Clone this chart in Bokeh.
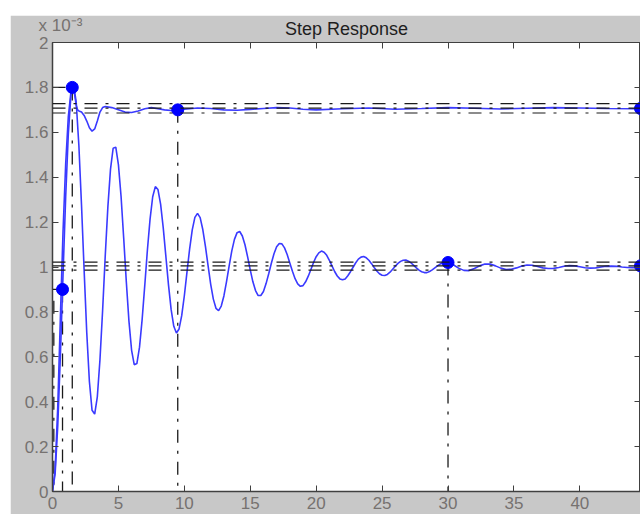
from bokeh.plotting import figure
from bokeh.models import Range1d, FixedTicker, LinearAxis, Span, ColumnDataSource
from bokeh.embed import file_html
from bokeh.resources import INLINE

# ---- data (response values in units of 1e-3) ----
# system 2: lightly damped, settles to 1.0e-3
t2 = [0.0, 0.2, 0.4, 0.6, 0.8, 1.0, 1.2, 1.4, 1.6, 1.8,
      2.0, 2.2, 2.4, 2.6, 2.8, 3.0, 3.2, 3.4, 3.6, 3.8,
      4.0, 4.2, 4.4, 4.6, 4.8, 5.0, 5.2, 5.4, 5.6, 5.8,
      6.0, 6.2, 6.4, 6.6, 6.8, 7.0, 7.2, 7.4, 7.6, 7.8,
      8.0, 8.2, 8.4, 8.6, 8.8, 9.0, 9.2, 9.4, 9.6, 9.8,
      10.0, 10.2, 10.4, 10.6, 10.8, 11.0, 11.2, 11.4, 11.6, 11.8,
      12.0, 12.2, 12.4, 12.6, 12.8, 13.0, 13.2, 13.4, 13.6, 13.8,
      14.0, 14.2, 14.4, 14.6, 14.8, 15.0, 15.2, 15.4, 15.6, 15.8,
      16.0, 16.2, 16.4, 16.6, 16.8, 17.0, 17.2, 17.4, 17.6, 17.8,
      18.0, 18.2, 18.4, 18.6, 18.8, 19.0, 19.2, 19.4, 19.6, 19.8,
      20.0, 20.2, 20.4, 20.6, 20.8, 21.0, 21.2, 21.4, 21.6, 21.8,
      22.0, 22.2, 22.4, 22.6, 22.8, 23.0, 23.2, 23.4, 23.6, 23.8,
      24.0, 24.2, 24.4, 24.6, 24.8, 25.0, 25.2, 25.4, 25.6, 25.8,
      26.0, 26.2, 26.4, 26.6, 26.8, 27.0, 27.2, 27.4, 27.6, 27.8,
      28.0, 28.2, 28.4, 28.6, 28.8, 29.0, 29.2, 29.4, 29.6, 29.8,
      30.0, 30.4, 30.8, 31.2, 31.6, 32.0, 32.4, 32.8, 33.2, 33.6,
      34.0, 34.4, 34.8, 35.2, 35.6, 36.0, 36.4, 36.8, 37.2, 37.6,
      38.0, 38.4, 38.8, 39.2, 39.6, 40.0, 40.4, 40.8, 41.2, 41.6,
      42.0, 42.4, 42.8, 43.2, 43.6, 44.0, 44.4, 44.6]
y2 = [0.000, 0.079, 0.294, 0.609, 0.968, 1.313, 1.593, 1.767, 1.814, 1.733,
      1.542, 1.277, 0.984, 0.706, 0.489, 0.362, 0.345, 0.422, 0.587, 0.805,
      1.049, 1.268, 1.436, 1.529, 1.534, 1.456, 1.315, 1.129, 0.933, 0.758,
      0.629, 0.565, 0.570, 0.643, 0.767, 0.919, 1.077, 1.213, 1.313, 1.358,
      1.345, 1.280, 1.174, 1.047, 0.919, 0.810, 0.736, 0.706, 0.724, 0.783,
      0.872, 0.977, 1.080, 1.165, 1.221, 1.239, 1.220, 1.167, 1.092, 1.006,
      0.923, 0.857, 0.816, 0.806, 0.826, 0.871, 0.935, 1.005, 1.072, 1.123,
      1.153, 1.158, 1.138, 1.099, 1.045, 0.987, 0.934, 0.895, 0.873, 0.873,
      0.891, 0.926, 0.970, 1.017, 1.059, 1.090, 1.105, 1.103, 1.085, 1.056,
      1.018, 0.981, 0.948, 0.925, 0.914, 0.917, 0.934, 0.959, 0.989, 1.020,
      1.046, 1.063, 1.071, 1.066, 1.052, 1.030, 1.005, 0.980, 0.960, 0.947,
      0.943, 0.947, 0.961, 0.979, 0.999, 1.019, 1.035, 1.044, 1.047, 1.041,
      1.030, 1.015, 0.998, 0.982, 0.970, 0.963, 0.962, 0.967, 0.977, 0.990,
      1.003, 1.016, 1.025, 1.030, 1.031, 1.026, 1.018, 1.007, 0.996, 0.986,
      0.979, 0.975, 0.975, 0.980, 0.987, 0.996, 1.005, 1.013, 1.018, 1.021,
      1.020, 1.010, 0.995, 0.985, 0.984, 0.993, 1.005, 1.013, 1.013, 1.005,
      0.995, 0.989, 0.990, 0.996, 1.004, 1.009, 1.008, 1.002, 0.996, 0.993,
      0.994, 0.998, 1.003, 1.006, 1.005, 1.001, 0.997, 0.995, 0.996, 1.000,
      1.003, 1.004, 1.003, 1.000, 0.998, 0.997, 0.998, 0.999]

# system 1: well damped, settles to 1.7e-3
t1 = [0.0, 0.2, 0.4, 0.6, 0.8, 1.0, 1.2, 1.4, 1.5, 1.6, 1.7, 1.8, 1.9, 2.0,
      2.2, 2.4, 2.6, 2.8, 3.0, 3.2, 3.4, 3.6, 3.8, 4.0, 4.5, 5.0, 5.5, 6.0,
      6.5, 7.0, 7.5, 8.0, 8.5, 9.0, 9.5, 10.0, 11.0, 12.0, 13.0, 14.0, 15.0,
      16.0, 17.0, 18.0, 19.0, 20.0, 22.0, 24.0, 26.0, 28.0, 30.0, 32.0, 34.0,
      36.0, 38.0, 40.0, 42.0, 44.0, 44.6]
y1 = [0.000, 0.100, 0.380, 0.780, 1.160, 1.460, 1.670, 1.780, 1.800, 1.790,
      1.760, 1.720, 1.700, 1.695, 1.690, 1.675, 1.650, 1.620, 1.605, 1.615,
      1.650, 1.690, 1.710, 1.715, 1.710, 1.700, 1.690, 1.688, 1.695, 1.705,
      1.710, 1.705, 1.700, 1.697, 1.700, 1.703, 1.708, 1.706, 1.700, 1.698,
      1.702, 1.706, 1.710, 1.708, 1.703, 1.700, 1.705, 1.708, 1.703, 1.706,
      1.710, 1.707, 1.704, 1.707, 1.710, 1.708, 1.706, 1.705, 1.705]

# characteristic points: peak, settling (sys1), rise (sys2), settling (sys2), steady states
mark_t = [1.5, 9.5, 0.76, 30.0, 44.6, 44.6]
mark_y = [1.80, 1.70, 0.90, 1.02, 1.706, 1.005]

# extra rise-start guide
rise_start_t = [0.1]
rise_start_y = [0.85]

# steady-state / settling band levels
band_levels = [1.728, 1.708, 1.686, 1.022, 1.005, 0.986]

x_ticks = [0, 5, 10, 15, 20, 25, 30, 35, 40, 45]
y_ticks = [0, 0.2, 0.4, 0.6, 0.8, 1.0, 1.2, 1.4, 1.6, 1.8, 2.0]
y_tick_labels = ["0", "0.2", "0.4", "0.6", "0.8", "1", "1.2", "1.4", "1.6", "1.8", "2"]

title_text = "Step Response"
exponent_pos = 0.6
exponent_text = "x 10\u207b\u00b3"

# ---- figure ----
FONT = "Liberation Sans"
GRAY_BG = "#c8c8c8"
AX = "#404040"
LBL = "#767270"
DASHDOT = "13 8 3 8"

p = figure(width=630, height=499, x_range=Range1d(0, 44.6), y_range=Range1d(0, 2),
           output_backend="svg", toolbar_location=None,
           min_border_left=42, min_border_top=27, min_border_bottom=23, min_border_right=0,
           background_fill_color="white", border_fill_color=GRAY_BG,
           outline_line_color=AX, outline_line_width=1)
p.margin = (15, 0, 0, 10)
p.title = None

p.grid.visible = False

for ax in (p.xaxis[0], p.yaxis[0]):
    ax.major_tick_in = 6
    ax.major_tick_out = 0
    ax.minor_tick_line_color = None
    ax.axis_line_color = AX
    ax.axis_line_width = 1.5
    ax.major_tick_line_color = AX
    ax.major_label_text_font = FONT
    ax.major_label_text_font_size = "17px"
    ax.major_label_text_color = LBL

p.xaxis.ticker = FixedTicker(ticks=x_ticks)
p.yaxis.ticker = FixedTicker(ticks=y_ticks)
p.yaxis.major_label_overrides = {v: s for v, s in zip(y_ticks, y_tick_labels)}
p.xaxis.major_label_standoff = 5
p.yaxis.major_label_standoff = 4

# top axis: frame ticks (as minor ticks), the exponent as its only label, title as its axis label
top_ax = LinearAxis(ticker=FixedTicker(ticks=[exponent_pos], minor_ticks=x_ticks),
                    major_tick_in=0, major_tick_out=0, major_tick_line_color=None,
                    minor_tick_in=6, minor_tick_out=0, minor_tick_line_color=AX,
                    axis_line_color=AX,
                    major_label_overrides={exponent_pos: exponent_text},
                    major_label_text_font=FONT, major_label_text_font_size="17px",
                    major_label_text_color=LBL, major_label_standoff=8,
                    axis_label=title_text, axis_label_text_font=FONT,
                    axis_label_text_font_size="18px", axis_label_text_font_style="normal",
                    axis_label_text_color="#1e1e1e", axis_label_standoff=-26)
right_ax = LinearAxis(ticker=FixedTicker(ticks=y_ticks), major_tick_in=6, major_tick_out=0,
                      minor_tick_line_color=None, axis_line_color=AX, major_tick_line_color=AX,
                      major_label_text_font_size="0px", major_label_standoff=0)
p.add_layout(top_ax, "above")
p.add_layout(right_ax, "right")

# band lines
for lev in band_levels:
    p.add_layout(Span(location=lev, dimension="width", line_color="#1a1a1a",
                      line_width=1.2, line_dash=DASHDOT))

# vertical guides from characteristic points down to 0, horizontal from axis
vt = mark_t[:4] + rise_start_t
vy = mark_y[:4] + rise_start_y
src_v = ColumnDataSource(dict(x=vt, y=vy, z=[0] * len(vt)))
p.segment(x0="x", y0="y", x1="x", y1="z", source=src_v, line_color="#1a1a1a",
          line_width=1.3, line_dash=DASHDOT)
ht = [mark_t[0], mark_t[2]]
hy = [mark_y[0], mark_y[2]]
src_h = ColumnDataSource(dict(x=ht, y=hy, z=[0] * len(ht)))
p.segment(x0="z", y0="y", x1="x", y1="y", source=src_h, line_color="#1a1a1a",
          line_width=1.3, line_dash=DASHDOT)

# responses
p.line(t2, y2, line_color="#3a3aff", line_width=1.6)
p.line(t1, y1, line_color="#3a3aff", line_width=1.6)

# markers
p.scatter(mark_t, mark_y, marker="circle", size=12, fill_color="#0000ff", line_color="#0000ff")

open("out.html", "w").write(file_html(p, INLINE))
